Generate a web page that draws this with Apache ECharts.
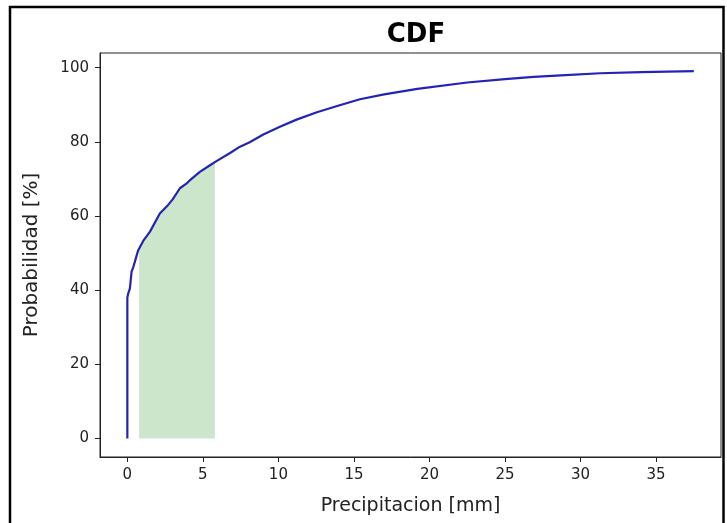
<!DOCTYPE html>
<html>
<head>
<meta charset="utf-8">
<script src="https://cdn.jsdelivr.net/npm/echarts@6/dist/echarts.min.js"></script>
<style>
html,body{margin:0;padding:0;background:#fff;}
#chart{width:727px;height:523px;}
</style>
</head>
<body>
<div id="chart"></div>
<script>
// Empirical CDF curve (precipitation mm, probability %)
const precipX = [0, 0, 0.05, 0.17, 0.25, 0.28, 0.4, 0.5, 0.72, 1.05, 1.5, 2.15, 2.7, 3.0, 3.48, 3.93, 4.15, 4.8, 5.47, 5.9, 6.8, 7.46, 8.1, 9.0, 10.1, 11.2, 12.55, 14.0, 15.4, 17.0, 19.2, 22.5, 25.0, 26.9, 29.0, 31.3, 34.0, 37.5];
const probY   = [0, 38, 39, 40.5, 41, 45, 46.3, 47.7, 50.8, 53.3, 55.8, 60.7, 63, 64.5, 67.5, 68.8, 69.7, 71.9, 73.7, 74.8, 77, 78.7, 79.9, 82, 84.1, 86, 88, 89.8, 91.5, 92.8, 94.3, 96, 96.9, 97.5, 98, 98.5, 98.8, 99.1];

// Shaded region under the curve
const fillX = [0.78, 1.05, 1.5, 2.15, 2.7, 3.0, 3.48, 3.93, 4.15, 4.8, 5.47, 5.8];
const fillY = [51.3, 53.3, 55.8, 60.7, 63, 64.5, 67.5, 68.8, 69.7, 71.9, 73.7, 74.6];

const xTicks = [0, 5, 10, 15, 20, 25, 30, 35];
const yTicks = [0, 20, 40, 60, 80, 100];

const titleText = 'CDF';
const xName = 'Precipitacion [mm]';
const yName = 'Probabilidad [%]';

const curve = precipX.map((x, i) => [x, probY[i]]);
const fill = fillX.map((x, i) => [x, fillY[i]]);

const FONT = "'DejaVu Sans', sans-serif";
const chart = echarts.init(document.getElementById('chart'), null, {renderer: 'canvas'});
chart.setOption({
  animation: false,
  backgroundColor: '#fff',
  title: {
    text: titleText,
    left: 411,
    top: 17,
    textAlign: 'center',
    textStyle: {fontFamily: FONT, fontWeight: 'bold', fontSize: 26, color: '#000'}
  },
  graphic: [{
    type: 'rect',
    shape: {x: 10, y: 7, width: 713.5, height: 600},
    style: {fill: 'none', stroke: '#000', lineWidth: 2.5},
    silent: true,
    z: 100
  }],
  grid: {
    left: 100, right: 6, top: 53, bottom: 66,
    show: true, borderColor: '#222', borderWidth: 1, backgroundColor: '#fff'
  },
  xAxis: {
    type: 'value',
    min: -1.81, max: 39.3,
    name: xName,
    nameLocation: 'middle',
    nameGap: 40,
    nameTextStyle: {fontFamily: FONT, fontSize: 19, color: '#222'},
    axisLine: {show: true, onZero: false, lineStyle: {color: '#222', width: 1}},
    axisTick: {show: true, length: 5, customValues: xTicks, lineStyle: {color: '#222'}},
    axisLabel: {customValues: xTicks, margin: 11, fontFamily: FONT, fontSize: 15, color: '#222'},
    splitLine: {show: false}
  },
  yAxis: {
    type: 'value',
    min: -4.96, max: 103.96,
    name: yName,
    nameLocation: 'middle',
    nameGap: 58,
    nameTextStyle: {fontFamily: FONT, fontSize: 20, color: '#222'},
    axisLine: {show: true, onZero: false, lineStyle: {color: '#222', width: 1}},
    axisTick: {show: true, length: 5, customValues: yTicks, lineStyle: {color: '#222'}},
    axisLabel: {customValues: yTicks, margin: 11, fontFamily: FONT, fontSize: 15, color: '#222'},
    splitLine: {show: false}
  },
  series: [
    {
      type: 'line',
      data: fill,
      showSymbol: false,
      lineStyle: {width: 0, opacity: 0},
      areaStyle: {color: 'rgba(0,128,0,0.2)', opacity: 1},
      z: 1,
      silent: true
    },
    {
      type: 'line',
      data: curve,
      showSymbol: false,
      lineStyle: {color: '#2424b4', width: 2.2},
      z: 3
    }
  ]
});
</script>
</body>
</html>
